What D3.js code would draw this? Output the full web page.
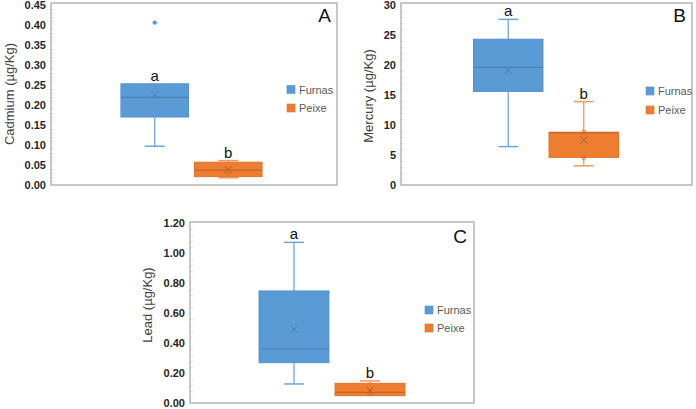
<!DOCTYPE html>
<html><head><meta charset="utf-8">
<script src="https://cdn.jsdelivr.net/npm/d3@7"></script>
<style>body{margin:0;background:#fff} svg{display:block;font-family:"Liberation Sans",Arial,sans-serif}</style>
</head><body><svg id="c" width="696" height="409"></svg>
<script>
// ---------- data ----------
const categories = ["Furnas", "Peixe"];
const panelLetters = ["A", "B", "C"];
const axisTitles = ["Cadmium (µg/Kg)", "Mercury (µg/Kg)", "Lead (µg/Kg)"];
const groupLetters = ["a", "b"];

const cdTicks = [0, 0.05, 0.10, 0.15, 0.20, 0.25, 0.30, 0.35, 0.40, 0.45];
const hgTicks = [0, 5, 10, 15, 20, 25, 30];
const pbTicks = [0, 0.20, 0.40, 0.60, 0.80, 1.00, 1.20];

const cdMin = [0.097, 0.018];
const cdQ1 = [0.170, 0.021];
const cdMedian = [0.219, 0.037];
const cdQ3 = [0.253, 0.057];
const cdMax = [0.253, 0.061];
const cdMean = [0.226, 0.039];
const cdOutliers = [[0.406], []];
const cdPoints = [[], [0.032]];

const hgMin = [6.4, 3.2];
const hgQ1 = [15.6, 4.6];
const hgMedian = [19.6, 8.7];
const hgQ3 = [24.3, 8.8];
const hgMax = [27.6, 13.9];
const hgMean = [19.1, 7.5];
const hgOutliers = [[], []];
const hgPoints = [[], [8.8, 4.6]];

const pbMin = [0.127, 0.049];
const pbQ1 = [0.269, 0.049];
const pbMedian = [0.360, 0.071];
const pbQ3 = [0.747, 0.131];
const pbMax = [1.071, 0.147];
const pbMean = [0.493, 0.087];
const pbOutliers = [[], []];
const pbPoints = [[], [0.065]];

// ---------- styling / layout ----------
const fills = ["#5B9BD5", "#ED7D31"];
const edge = ["#5590cc", "#e2732a"];
const whiskerCol = ["#6fa6da", "#f09a62"];
const medianCol = ["#4a7fb5", "#c9651f"];
const meanCol = ["#4a7fb5", "#b85d22"];

const layouts = [
  {left: 51, right: 337, top: 3, bottom: 185, yr: [185, 5], box: [118, 265], fmt: ".2f",
   leg: [287, 89.5, 108], title: [9, 94], letter: [331, 22]},
  {left: 401, right: 692, top: 3, bottom: 185, yr: [185, 5], box: [470.5, 621.5], fmt: "d",
   leg: [646, 91, 110], title: [368, 96], letter: [686, 22]},
  {left: 190, right: 474, top: 222, bottom: 403, yr: [403, 223], box: [256, 408], fmt: ".2f",
   leg: [425, 310, 328], title: [147, 305], letter: [467, 243]}
];

const panelData = [
  {ticks: cdTicks, min: cdMin, q1: cdQ1, med: cdMedian, q3: cdQ3, max: cdMax, mean: cdMean, out: cdOutliers, pts: cdPoints},
  {ticks: hgTicks, min: hgMin, q1: hgQ1, med: hgMedian, q3: hgQ3, max: hgMax, mean: hgMean, out: hgOutliers, pts: hgPoints},
  {ticks: pbTicks, min: pbMin, q1: pbQ1, med: pbMedian, q3: pbQ3, max: pbMax, mean: pbMean, out: pbOutliers, pts: pbPoints}
];

const svg = d3.select("#c");

panelData.forEach((d, pi) => {
  const L = layouts[pi];
  const g = svg.append("g");
  const y = d3.scaleLinear().domain([d.ticks[0], d.ticks[d.ticks.length - 1]]).range(L.yr);
  const x = d3.scaleBand().domain(categories).range(L.box).paddingInner(0.08).paddingOuter(0.04);

  // minor ticks
  const step = d.ticks[1] - d.ticks[0];
  const minor = [];
  for (let i = 0; i < d.ticks.length - 1; i++) for (let k = 1; k < 5; k++) minor.push(d.ticks[i] + step * k / 5);
  g.append("g").attr("transform", `translate(${L.left},0)`)
    .call(d3.axisRight(y).tickValues(minor).tickSize(3).tickFormat(""))
    .call(a => a.select(".domain").remove())
    .call(a => a.selectAll("line").attr("stroke", "#e3e3e3"));

  // frame
  g.append("rect").attr("x", L.left).attr("y", L.top)
    .attr("width", L.right - L.left).attr("height", L.bottom - L.top)
    .attr("fill", "none").attr("stroke", "#ababab").attr("stroke-width", 1.3);

  // y axis labels
  g.append("g").attr("transform", `translate(${L.left},0)`)
    .call(d3.axisLeft(y).tickValues(d.ticks).tickSize(0).tickPadding(5).tickFormat(d3.format(L.fmt)))
    .call(a => a.select(".domain").remove())
    .call(a => a.selectAll("text").attr("font-size", 11).attr("font-weight", "bold")
      .attr("fill", "#262626").attr("font-family", "'Liberation Sans',Arial,sans-serif"));

  // axis title
  g.append("text").attr("transform", `translate(${L.title[0]},${L.title[1]}) rotate(-90)`)
    .attr("text-anchor", "middle").attr("dominant-baseline", "central")
    .attr("font-size", 13).attr("fill", "#404040").text(axisTitles[pi]);

  // boxes
  categories.forEach((c, i) => {
    const bx = x(c), bw = x.bandwidth(), cx = bx + bw / 2, cap = 10;
    // whiskers
    if (d.max[i] > d.q3[i]) {
      g.append("line").attr("x1", cx).attr("x2", cx).attr("y1", y(d.q3[i])).attr("y2", y(d.max[i]))
        .attr("stroke", whiskerCol[i]).attr("stroke-width", 1.3);
      g.append("line").attr("x1", cx - cap).attr("x2", cx + cap).attr("y1", y(d.max[i])).attr("y2", y(d.max[i]))
        .attr("stroke", whiskerCol[i]).attr("stroke-width", 1.5);
    }
    if (d.min[i] < d.q1[i]) {
      g.append("line").attr("x1", cx).attr("x2", cx).attr("y1", y(d.q1[i])).attr("y2", y(d.min[i]))
        .attr("stroke", whiskerCol[i]).attr("stroke-width", 1.3);
      g.append("line").attr("x1", cx - cap).attr("x2", cx + cap).attr("y1", y(d.min[i])).attr("y2", y(d.min[i]))
        .attr("stroke", whiskerCol[i]).attr("stroke-width", 1.5);
    }
    g.append("rect").attr("x", bx).attr("y", y(d.q3[i])).attr("width", bw)
      .attr("height", y(d.q1[i]) - y(d.q3[i])).attr("fill", fills[i])
      .attr("stroke", edge[i]).attr("stroke-width", 1);
    g.append("line").attr("x1", bx).attr("x2", bx + bw).attr("y1", y(d.med[i])).attr("y2", y(d.med[i]))
      .attr("stroke", medianCol[i]).attr("stroke-width", 1.2);
    // mean marker
    const my = y(d.mean[i]), s = 3.5;
    g.append("path").attr("d", `M${cx - s},${my - s}L${cx + s},${my + s}M${cx - s},${my + s}L${cx + s},${my - s}`)
      .attr("stroke", meanCol[i]).attr("stroke-width", 1).attr("fill", "none");
    // inner points
    d.pts[i].forEach(v => {
      g.append("circle").attr("cx", cx).attr("cy", y(v)).attr("r", 2)
        .attr("fill", "none").attr("stroke", medianCol[i]).attr("stroke-width", 0.8);
    });
    // outliers
    d.out[i].forEach(v => {
      g.append("circle").attr("cx", cx).attr("cy", y(v)).attr("r", 2.2).attr("fill", fills[i]);
    });
    // group letter
    const topV = Math.max(d.q3[i], d.max[i]);
    g.append("text").attr("x", cx).attr("y", y(topV) - 3).attr("text-anchor", "middle")
      .attr("font-size", 15).attr("fill", "#111").text(groupLetters[i]);
  });

  // legend
  categories.forEach((c, i) => {
    const ly = L.leg[1 + i];
    g.append("rect").attr("x", L.leg[0]).attr("y", ly - 4).attr("width", 8).attr("height", 8)
      .attr("fill", fills[i]).attr("stroke", edge[i]).attr("stroke-width", 0.6);
    g.append("text").attr("x", L.leg[0] + 12).attr("y", ly).attr("dominant-baseline", "central")
      .attr("font-size", 11).attr("fill", "#595959").text(c);
  });

  // panel letter
  g.append("text").attr("x", L.letter[0]).attr("y", L.letter[1]).attr("text-anchor", "end")
    .attr("font-size", 19).attr("fill", "#111").text(panelLetters[pi]);
});
</script>
</body></html>
